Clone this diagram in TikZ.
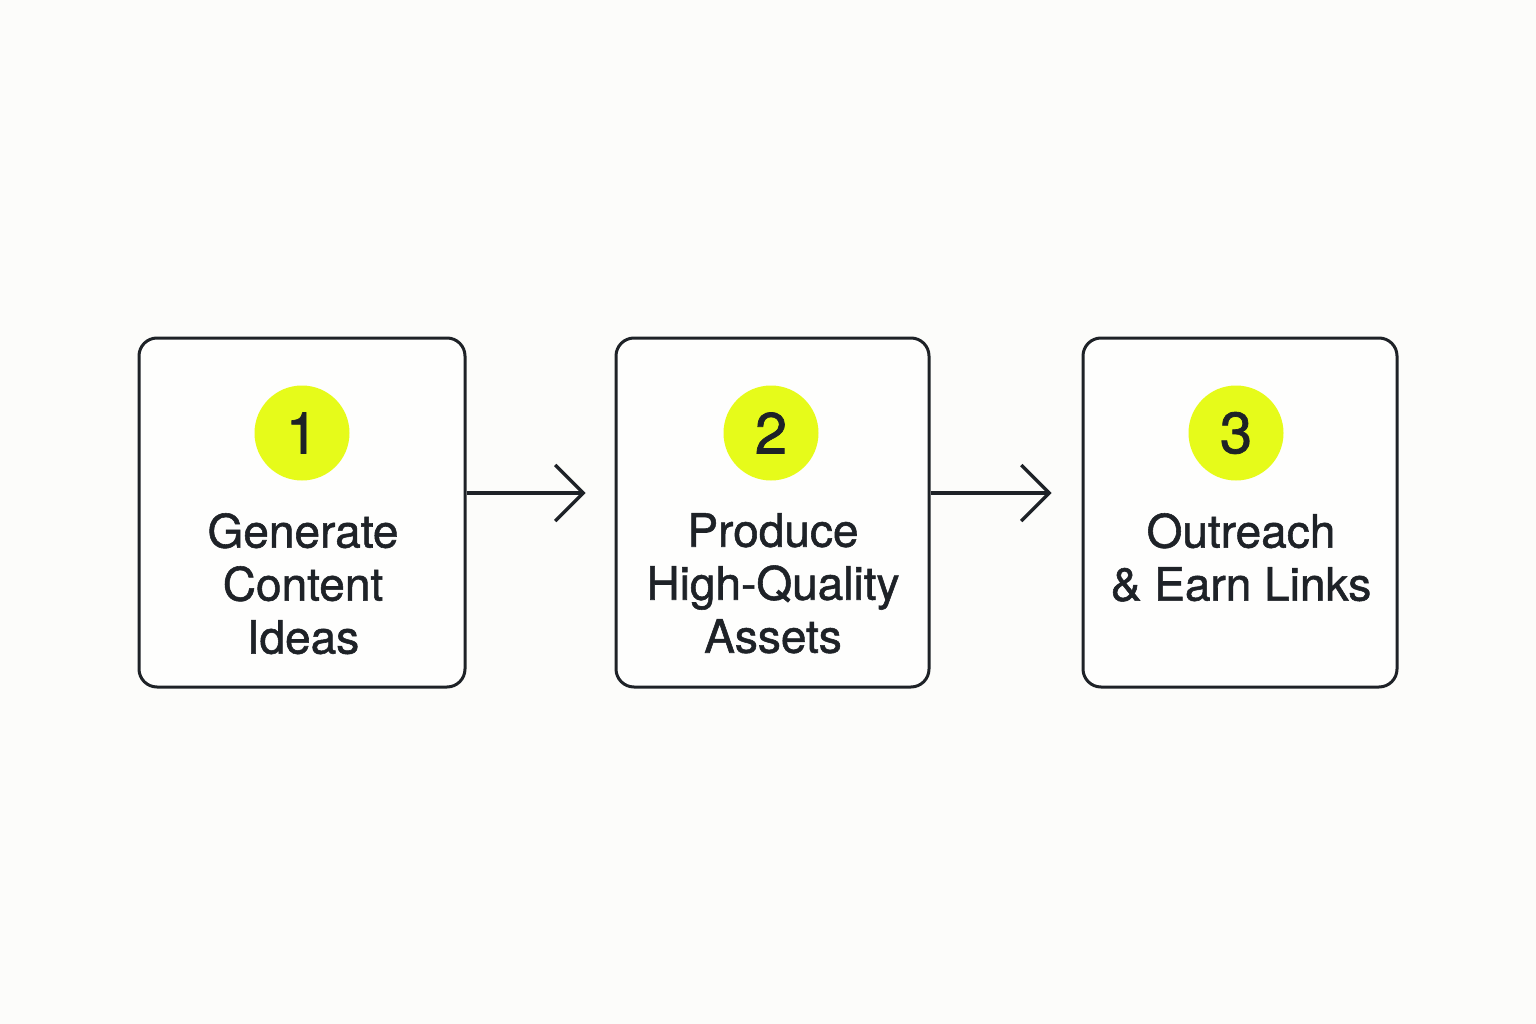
\documentclass[tikz,border=0pt]{standalone}
\usepackage{fontspec}
\setmainfont[FakeBold=1.2]{TeX Gyre Heros}
\usetikzlibrary{arrows.meta}
\definecolor{bgc}{HTML}{FCFCFA}
\definecolor{ink}{HTML}{1E2227}
\definecolor{lime}{HTML}{E6FB1A}
\tikzset{
  stepbox/.style={draw=ink, line width=3pt, rounded corners=18pt, fill=white!60!bgc, minimum height=349pt, inner sep=0pt},
  badge/.style={circle, fill=lime, minimum size=95pt, inner sep=0pt, text=ink, font=\fontsize{58}{58}\selectfont},
  label/.style={anchor=north, align=center, text=ink, inner sep=0pt, font=\fontsize{46}{53}\selectfont},
  flow/.style={draw=ink, line width=3.2pt, -{Straight Barb[length=28pt, width=56pt, line width=3.2pt]}},
}
\begin{document}
\begin{tikzpicture}[x=1pt, y=-1pt]
\useasboundingbox[fill=bgc] (0,0) rectangle (1536,1024);
\node[stepbox, minimum width=326pt] (b1) at (302,512.5) {};
\node[stepbox, minimum width=313pt] (b2) at (772.5,512.5) {};
\node[stepbox, minimum width=314pt] (b3) at (1240,512.5) {};
\node[badge] (c1) at (302,433) {1};
\node[badge] (c2) at (771,433) {2};
\node[badge] (c3) at (1236,433) {3};
\node[label] (t1) at (303,513) {Generate\\Content\\Ideas};
\node[label] (t2) at (773,513) {Produce\\High-Quality\\Assets};
\node[label] (t3) at (1241,513) {Outreach\\\& Earn Links};
\draw[flow, shorten >=29pt] (b1.east |- 0,493) -- (b2.west |- 0,493);
\draw[flow, shorten >=30pt] (b2.east |- 0,493) -- (b3.west |- 0,493);
\end{tikzpicture}
\end{document}
